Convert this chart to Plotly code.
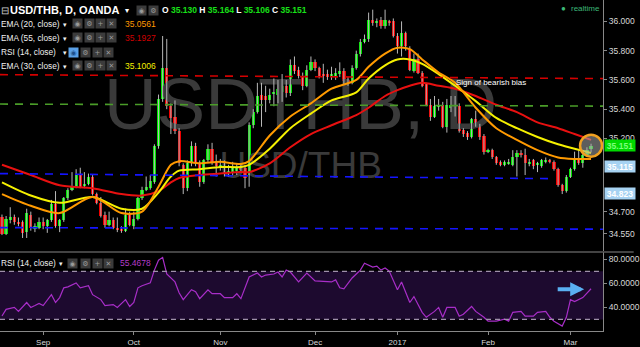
import plotly.graph_objects as go

# ---------------- data ----------------
opens = [34.66,34.55,34.64,34.66,34.63,34.63,34.56,34.68,34.58,34.59,34.63,34.60,34.64,34.75,34.60,34.64,34.79,34.85,34.87,34.95,
         34.88,34.89,34.94,34.82,34.76,34.68,34.61,34.64,34.59,34.58,34.57,34.68,34.60,34.65,34.79,34.85,34.86,34.90,35.15,35.47,
         35.68,35.42,35.35,35.25,35.02,34.86,35.03,35.15,35.03,34.90,35.05,35.13,35.03,35.01,35.03,34.97,34.97,34.98,35.00,35.00,
         34.95,35.29,35.38,35.50,35.49,35.46,35.51,35.50,35.52,35.56,35.51,35.70,35.67,35.63,35.56,35.67,35.72,35.68,35.64,35.64,
         35.62,35.63,35.64,35.66,35.60,35.58,35.68,35.78,35.86,35.88,36.01,35.99,36.01,35.97,36.00,36.00,35.90,35.83,35.92,35.81,
         35.66,35.74,35.65,35.57,35.43,35.35,35.42,35.43,35.28,35.41,35.42,35.42,35.26,35.24,35.21,35.33,35.29,35.22,35.11,35.12,
         35.07,35.04,35.02,35.03,35.02,35.07,35.10,35.09,35.03,35.05,35.02,35.01,35.04,35.05,35.04,34.99,34.88,34.84,34.94,34.99,
         35.06,35.03,35.09,35.130]
highs = [34.68,34.67,34.73,34.68,34.66,34.64,34.72,34.70,34.62,34.66,34.66,34.65,34.78,34.84,34.65,34.80,34.86,34.97,34.99,35.00,
         34.97,34.96,34.95,34.83,34.80,34.70,34.70,34.66,34.66,34.60,34.72,34.70,34.70,34.80,34.87,34.94,34.95,35.16,35.50,35.90,
         35.88,35.44,35.46,35.27,35.03,35.05,35.18,35.17,35.05,35.06,35.16,35.17,35.09,35.06,35.05,35.02,35.04,35.03,35.03,35.02,
         35.31,35.40,35.58,35.58,35.56,35.54,35.61,35.60,35.64,35.60,35.74,35.76,35.69,35.65,35.70,35.76,35.74,35.69,35.71,35.67,
         35.69,35.68,35.72,35.68,35.62,35.70,35.80,35.88,35.91,36.06,36.08,36.02,36.03,36.08,36.01,36.02,35.92,36.00,35.93,35.83,
         35.78,35.78,35.66,35.58,35.47,35.49,35.47,35.45,35.47,35.49,35.49,35.44,35.27,35.25,35.34,35.39,35.30,35.23,35.13,35.13,
         35.08,35.05,35.05,35.06,35.12,35.12,35.12,35.13,35.06,35.06,35.04,35.06,35.07,35.06,35.05,35.00,34.89,34.95,35.00,35.11,
         35.12,35.10,35.14,35.164]
lows = [34.54,34.54,34.62,34.61,34.60,34.52,34.52,34.57,34.56,34.58,34.58,34.555,34.63,34.59,34.56,34.63,34.78,34.84,34.86,34.86,
        34.86,34.88,34.81,34.75,34.66,34.59,34.60,34.58,34.56,34.555,34.56,34.60,34.58,34.64,34.78,34.84,34.85,34.89,35.13,35.45,
        35.40,35.23,35.23,35.01,34.82,34.84,35.01,35.01,34.87,34.89,35.04,35.02,34.94,34.98,34.94,34.94,34.95,34.95,34.97,34.86,
        34.87,35.27,35.37,35.28,35.38,35.44,35.42,35.44,35.45,35.48,35.49,35.64,35.61,35.53,35.55,35.66,35.66,35.61,35.58,35.60,
        35.60,35.60,35.62,35.57,35.56,35.57,35.67,35.76,35.85,35.86,35.97,35.96,35.95,35.95,35.97,35.89,35.78,35.76,35.80,35.66,
        35.65,35.64,35.55,35.42,35.32,35.34,35.39,35.27,35.24,35.38,35.35,35.24,35.21,35.19,35.20,35.28,35.19,35.09,35.10,35.06,
        35.02,35.01,35.01,35.02,35.01,34.94,35.07,34.95,35.01,34.99,34.97,35.00,35.03,35.03,34.98,34.87,34.82,34.83,34.93,34.98,
        35.02,35.00,35.08,35.106]
closes = [34.55,34.65,34.66,34.63,34.62,34.555,34.69,34.59,34.60,34.63,34.60,34.64,34.75,34.60,34.64,34.79,34.85,34.87,34.95,34.87,
          34.89,34.94,34.82,34.76,34.67,34.61,34.64,34.59,34.58,34.57,34.68,34.61,34.65,34.79,34.85,34.87,34.91,35.15,35.47,35.68,
          35.42,35.34,35.25,35.03,34.86,35.03,35.15,35.03,34.90,35.05,35.13,35.03,35.01,35.02,34.96,34.97,35.00,35.00,34.99,34.93,
          35.29,35.38,35.49,35.46,35.46,35.50,35.51,35.54,35.56,35.51,35.70,35.66,35.63,35.56,35.67,35.72,35.68,35.63,35.63,35.62,
          35.64,35.65,35.66,35.59,35.58,35.68,35.78,35.86,35.88,36.01,35.99,36.00,35.97,36.01,35.99,35.90,35.83,35.92,35.83,35.67,
          35.74,35.65,35.56,35.43,35.35,35.42,35.43,35.28,35.43,35.43,35.42,35.25,35.23,35.21,35.33,35.29,35.21,35.11,35.12,35.07,
          35.03,35.02,35.04,35.04,35.07,35.10,35.09,35.03,35.04,35.01,35.02,35.05,35.05,35.04,34.99,34.88,34.84,34.94,34.99,35.05,
          35.03,35.09,35.12,35.151]

month_idx = [10, 32, 53, 76, 96, 118, 138]
month_lbl = ["Sep", "Oct", "Nov", "Dec", "2017", "Feb", "Mar"]

ema_idx = [0,7,14,22,29,34,38,41,43,48,53,58,60,65,70,75,80,86,89,93,96,99,102,106,110,115,120,125,130,135,139,143]
ema20 = [34.82,34.74,34.69,34.80,34.69,34.70,34.87,35.02,35.045,35.03,35.04,35.025,35.045,35.22,35.35,35.44,35.54,35.60,
         35.69,35.78,35.82,35.81,35.74,35.65,35.58,35.41,35.27,35.19,35.12,35.07,35.06,35.06]
ema30 = [34.90,34.81,34.76,34.80,34.72,34.72,34.83,34.94,34.98,34.99,35.005,35.005,35.02,35.13,35.27,35.37,35.46,35.515,
         35.61,35.70,35.74,35.74,35.71,35.64,35.56,35.455,35.34,35.27,35.21,35.16,35.13,35.10]
ema55 = [35.02,34.95,34.88,34.86,34.82,34.81,34.84,34.90,34.93,34.95,34.96,34.97,34.97,35.03,35.14,35.23,35.29,35.36,
         35.41,35.49,35.53,35.56,35.58,35.56,35.54,35.49,35.43,35.38,35.31,35.27,35.23,35.19]

rsi_idx = [0,1,3,4,6,7,8,9,10,12,13,14,15,16,18,19,21,22,24,25,27,28,30,31,32,33,34,36,37,38,39,40,42,43,44,46,
           47,48,50,51,53,54,56,57,58,59,60,62,63,64,66,67,68,69,70,72,74,76,80,81,82,83,85,87,88,90,91,92,93,94,95,96,
           97,98,99,100,101,102,103,105,106,107,108,110,111,112,114,115,117,118,120,122,123,124,126,127,129,130,132,
           133,134,135,136,137,138,139,141,143]
rsi_val = [32.9,38.4,40.0,36.7,44.1,40.0,41.6,43.3,41.6,50.6,44.1,48.2,56.3,57.1,60.4,56.3,58.0,50.6,46.5,41.6,42.4,40.0,
           46.5,40.8,44.1,56.3,58.0,60.4,71.0,79.2,81.6,67.8,61.2,52.2,46.5,54.7,53.1,47.3,54.7,51.4,51.4,48.2,48.2,51.4,
           47.3,56.3,65.3,68.6,65.3,66.9,67.8,69.4,65.3,71.0,69.4,61.2,68.6,62.0,61.2,62.9,56.3,55.5,64.5,71.0,76.7,73.5,
           74.3,71.0,72.7,70.2,62.9,54.7,61.2,53.1,44.1,49.0,42.4,35.9,31.8,36.7,40.0,31.8,40.0,40.0,32.7,34.3,40.8,36.7,
           31.8,28.6,28.6,30.2,28.6,35.9,36.7,32.7,32.7,35.9,36.7,31.8,28.6,26.9,24.5,31.8,46.5,44.9,48.2,55.5]

price_ticks = [36.0, 35.8, 35.6, 35.4, 35.2, 34.7, 34.55]
rsi_ticks = [80, 60, 40]

# drawn levels: start value, end value, end bar
level_start = [35.636, 35.435, 34.960, 34.591]
level_end = [35.609, 35.421, 34.925, 34.580]
level_end_idx = [145.9, 145.9, 134, 145.9]
level_colors = ["#d40000", "#4a9c28", "#1414ff", "#1414ff"]

tag_text = ["35.151", "35.115", "34.823"]
tag_y = [35.151, 35.005, 34.823]

# ---------------- helpers ----------------
W_PLOT, H_PLOT = 609, 337
FONT = "Liberation Sans, Arial, sans-serif"


def px(x):
    return x / W_PLOT


def py(y):
    return 1 - y / H_PLOT


n = len(opens)
idx = list(range(n))

fig = go.Figure()

# watermark (drawn first so everything sits on top of it)
fig.add_trace(go.Scatter(x=[72.5], y=[35.39], mode="text", text=["USDTHB, D"],
                         textfont=dict(size=73, color="#3a3a3a", family=FONT), hoverinfo="skip"))
fig.add_trace(go.Scatter(x=[72.5], y=[34.995], mode="text", text=["USD/THB"],
                         textfont=dict(size=37, color="#3a3a3a", family=FONT), hoverinfo="skip"))

# wicks
wx, wy = [], []
for i in idx:
    wx += [i, i, None]
    wy += [lows[i], highs[i], None]
fig.add_trace(go.Scatter(x=wx, y=wy, mode="lines", line=dict(color="#b8b8b8", width=1), hoverinfo="skip"))

# bodies
body_base = [min(o, c) for o, c in zip(opens, closes)]
body_h = [max(abs(c - o), 0.006) for o, c in zip(opens, closes)]
body_col = ["#00e600" if c >= o else "#f00000" for o, c in zip(opens, closes)]
fig.add_trace(go.Bar(x=idx, y=body_h, base=body_base, width=0.78,
                     marker=dict(color=body_col, line=dict(width=0)), hoverinfo="skip"))

# EMAs
for vals, col in [(ema55, "#e81010"), (ema30, "#f5f000"), (ema20, "#ff9a00")]:
    fig.add_trace(go.Scatter(x=ema_idx, y=vals, mode="lines",
                             line=dict(color=col, width=2, shape="spline", smoothing=0.8), hoverinfo="skip"))

# RSI
fig.add_trace(go.Scatter(x=rsi_idx, y=rsi_val, mode="lines", yaxis="y2",
                         line=dict(color="#a82ec8", width=1.2), hoverinfo="skip"))

shapes = []
# RSI band
shapes.append(dict(type="rect", xref="paper", yref="y2", x0=0, x1=1, y0=30, y1=70,
                   fillcolor="#1d0a2f", line=dict(width=0), layer="below"))
for lv in (70, 30):
    shapes.append(dict(type="line", xref="paper", yref="y2", x0=0, x1=1, y0=lv, y1=lv,
                       line=dict(color="#9f90aa", width=1.2, dash="5px,4px")))
# pane separator
shapes.append(dict(type="line", xref="paper", yref="paper", x0=0, x1=640 / W_PLOT,
                   y0=py(256.5), y1=py(256.5), line=dict(color="#5a5a5a", width=1.5)))
# price levels
for s, e, ei, col in zip(level_start, level_end, level_end_idx, level_colors):
    shapes.append(dict(type="line", xref="x", yref="y", x0=-0.48, x1=ei, y0=s, y1=e,
                       line=dict(color=col, width=1.6, dash="8px,7px")))
# highlight circle on last bar
shapes.append(dict(type="circle", xref="x", yref="y", xsizemode="pixel", ysizemode="pixel",
                   xanchor=idx[-1], yanchor=closes[-1], x0=-11, x1=11, y0=-11, y1=11,
                   line=dict(color="#f0a020", width=2.5), fillcolor="rgba(170,170,170,0.55)"))

ann = []


def text(x, y, t, size=8, color="#e8e8e8", anchor="left", **kw):
    ann.append(dict(x=px(x), y=py(y), xref="paper", yref="paper", text=t, showarrow=False,
                    xanchor=anchor, yanchor="middle", borderpad=0,
                    font=dict(size=size, color=color, family=FONT), **kw))


def icon(x, y, sym, bg="#3b3b3b", fg="#9a9a9a"):
    ann.append(dict(x=px(x), y=py(y), xref="paper", yref="paper", text=sym, showarrow=False,
                    xanchor="center", yanchor="middle", width=9, height=9, bgcolor=bg, borderpad=0,
                    font=dict(size=7, color=fg, family="DejaVu Sans")))


# header row 1
text(0, 10.5, "⊟", size=10, color="#d0d0d0")
text(9, 10.5, "<b>USD/THB, D, OANDA</b>", size=11, color="#ffffff")
text(125, 11, "▾", size=8, color="#ffffff")
icon(143, 10.5, "◉")
icon(155, 10.5, "⚙")
g = "#18e018"
text(163, 10.5, "<b>O <span style='color:%s'>35.130</span> H <span style='color:%s'>35.164</span> "
                "L <span style='color:%s'>35.106</span> C <span style='color:%s'>35.151</span></b>" % (g, g, g, g),
     size=8.5, color="#ffffff")

rows = [(24, "EMA (20, close)", "35.0561", "#ff9a00"),
        (38.5, "EMA (55, close)", "35.1927", "#d00000"),
        (53, "RSI (14, close)", None, None),
        (67, "EMA (30, close)", "35.1006", "#f5f000")]
for y, lab, val, col in rows:
    text(0, y, lab, size=8.3, color="#f0f0f0")
    text(63, y + 0.5, "▾", size=7, color="#f0f0f0")
    if val is None:
        xs = [74, 86, 98, 110]
        icon(xs[0], y, "◉", bg="#5aa0e6", fg="#1c4f8a")
    else:
        xs = [78.5, 90, 101.5, 113]
        icon(xs[0], y, "◉")
    icon(xs[1], y, "⚙")
    icon(xs[2], y, "+")
    icon(xs[3], y, "✕")
    if val is not None:
        text(125, y, val, size=8.5, color=col)

# RSI legend
text(0, 268, "RSI (14, close)", size=8.3, color="#f0f0f0")
text(59, 268.5, "▾", size=7, color="#f0f0f0")
for xx, s in zip([73, 86, 98, 110], ["◉", "⚙", "+", "✕"]):
    icon(xx, 268, s)
text(120, 268, "55.4678", size=8.5, color="#b43cc8")

# realtime
text(566, 9, "●", size=8, color="#3cb878")
text(576, 9, "realtime", size=8, color="#3cb878")

# comment
ann.append(dict(x=118.6, y=35.58, xref="x", yref="y", text="Sign of bearish bias", showarrow=False,
                xanchor="center", yanchor="middle", borderpad=0,
                font=dict(size=8, color="#ffffff", family=FONT)))

# price tags
for t, yv, bg, fg in zip(tag_text, tag_y, ["#00d800", "#a6d2f2", "#a6d2f2"], ["#7cff7c", "#ffffff", "#ffffff"]):
    ann.append(dict(x=1, y=yv, xref="paper", yref="y", text="<b>%s</b>" % t, showarrow=False,
                    xanchor="left", yanchor="middle", xshift=1, width=30, height=11, align="center",
                    bgcolor=bg, borderpad=0, font=dict(size=8.5, color=fg, family=FONT)))

# arrow in RSI pane
ann.append(dict(x=px(590), y=py(294.5), xref="paper", yref="paper", ax=-28, ay=0, text="",
                showarrow=True, arrowhead=2, arrowwidth=4, arrowsize=0.7, arrowcolor="#5ab0f2", standoff=0))

axis_font = dict(size=8.5, color="#d8d8d8", family=FONT)
fig.update_layout(
    width=640, height=347, margin=dict(l=0, r=31, t=0, b=10, pad=0),
    paper_bgcolor="#000000", plot_bgcolor="#000000", showlegend=False, bargap=0,
    xaxis=dict(range=[-0.48, 145.9], tickvals=month_idx, ticktext=month_lbl, ticks="outside", ticklen=3,
               tickcolor="#888888", tickfont=dict(size=8, color="#d8d8d8", family=FONT), showgrid=False,
               zeroline=False, showline=True, linecolor="#888888", linewidth=1, anchor="y2"),
    yaxis=dict(domain=[1 - 256 / H_PLOT, 1], range=[34.428, 36.146], side="right", anchor="x",
               tickvals=price_ticks, ticktext=["%.3f" % v for v in price_ticks], ticks="outside", ticklen=3,
               tickcolor="#888888", tickfont=axis_font, showgrid=False, zeroline=False, showline=True,
               linecolor="#888888", linewidth=1),
    yaxis2=dict(domain=[0, 80 / H_PLOT], range=[20.41, 85.71], side="right", anchor="x",
                tickvals=rsi_ticks, ticktext=["%.4f" % v for v in rsi_ticks], ticks="outside", ticklen=3,
                tickcolor="#888888", tickfont=axis_font, showgrid=False, zeroline=False, showline=True,
                linecolor="#888888", linewidth=1),
    shapes=shapes, annotations=ann,
)

fig.write_html("out.html")
